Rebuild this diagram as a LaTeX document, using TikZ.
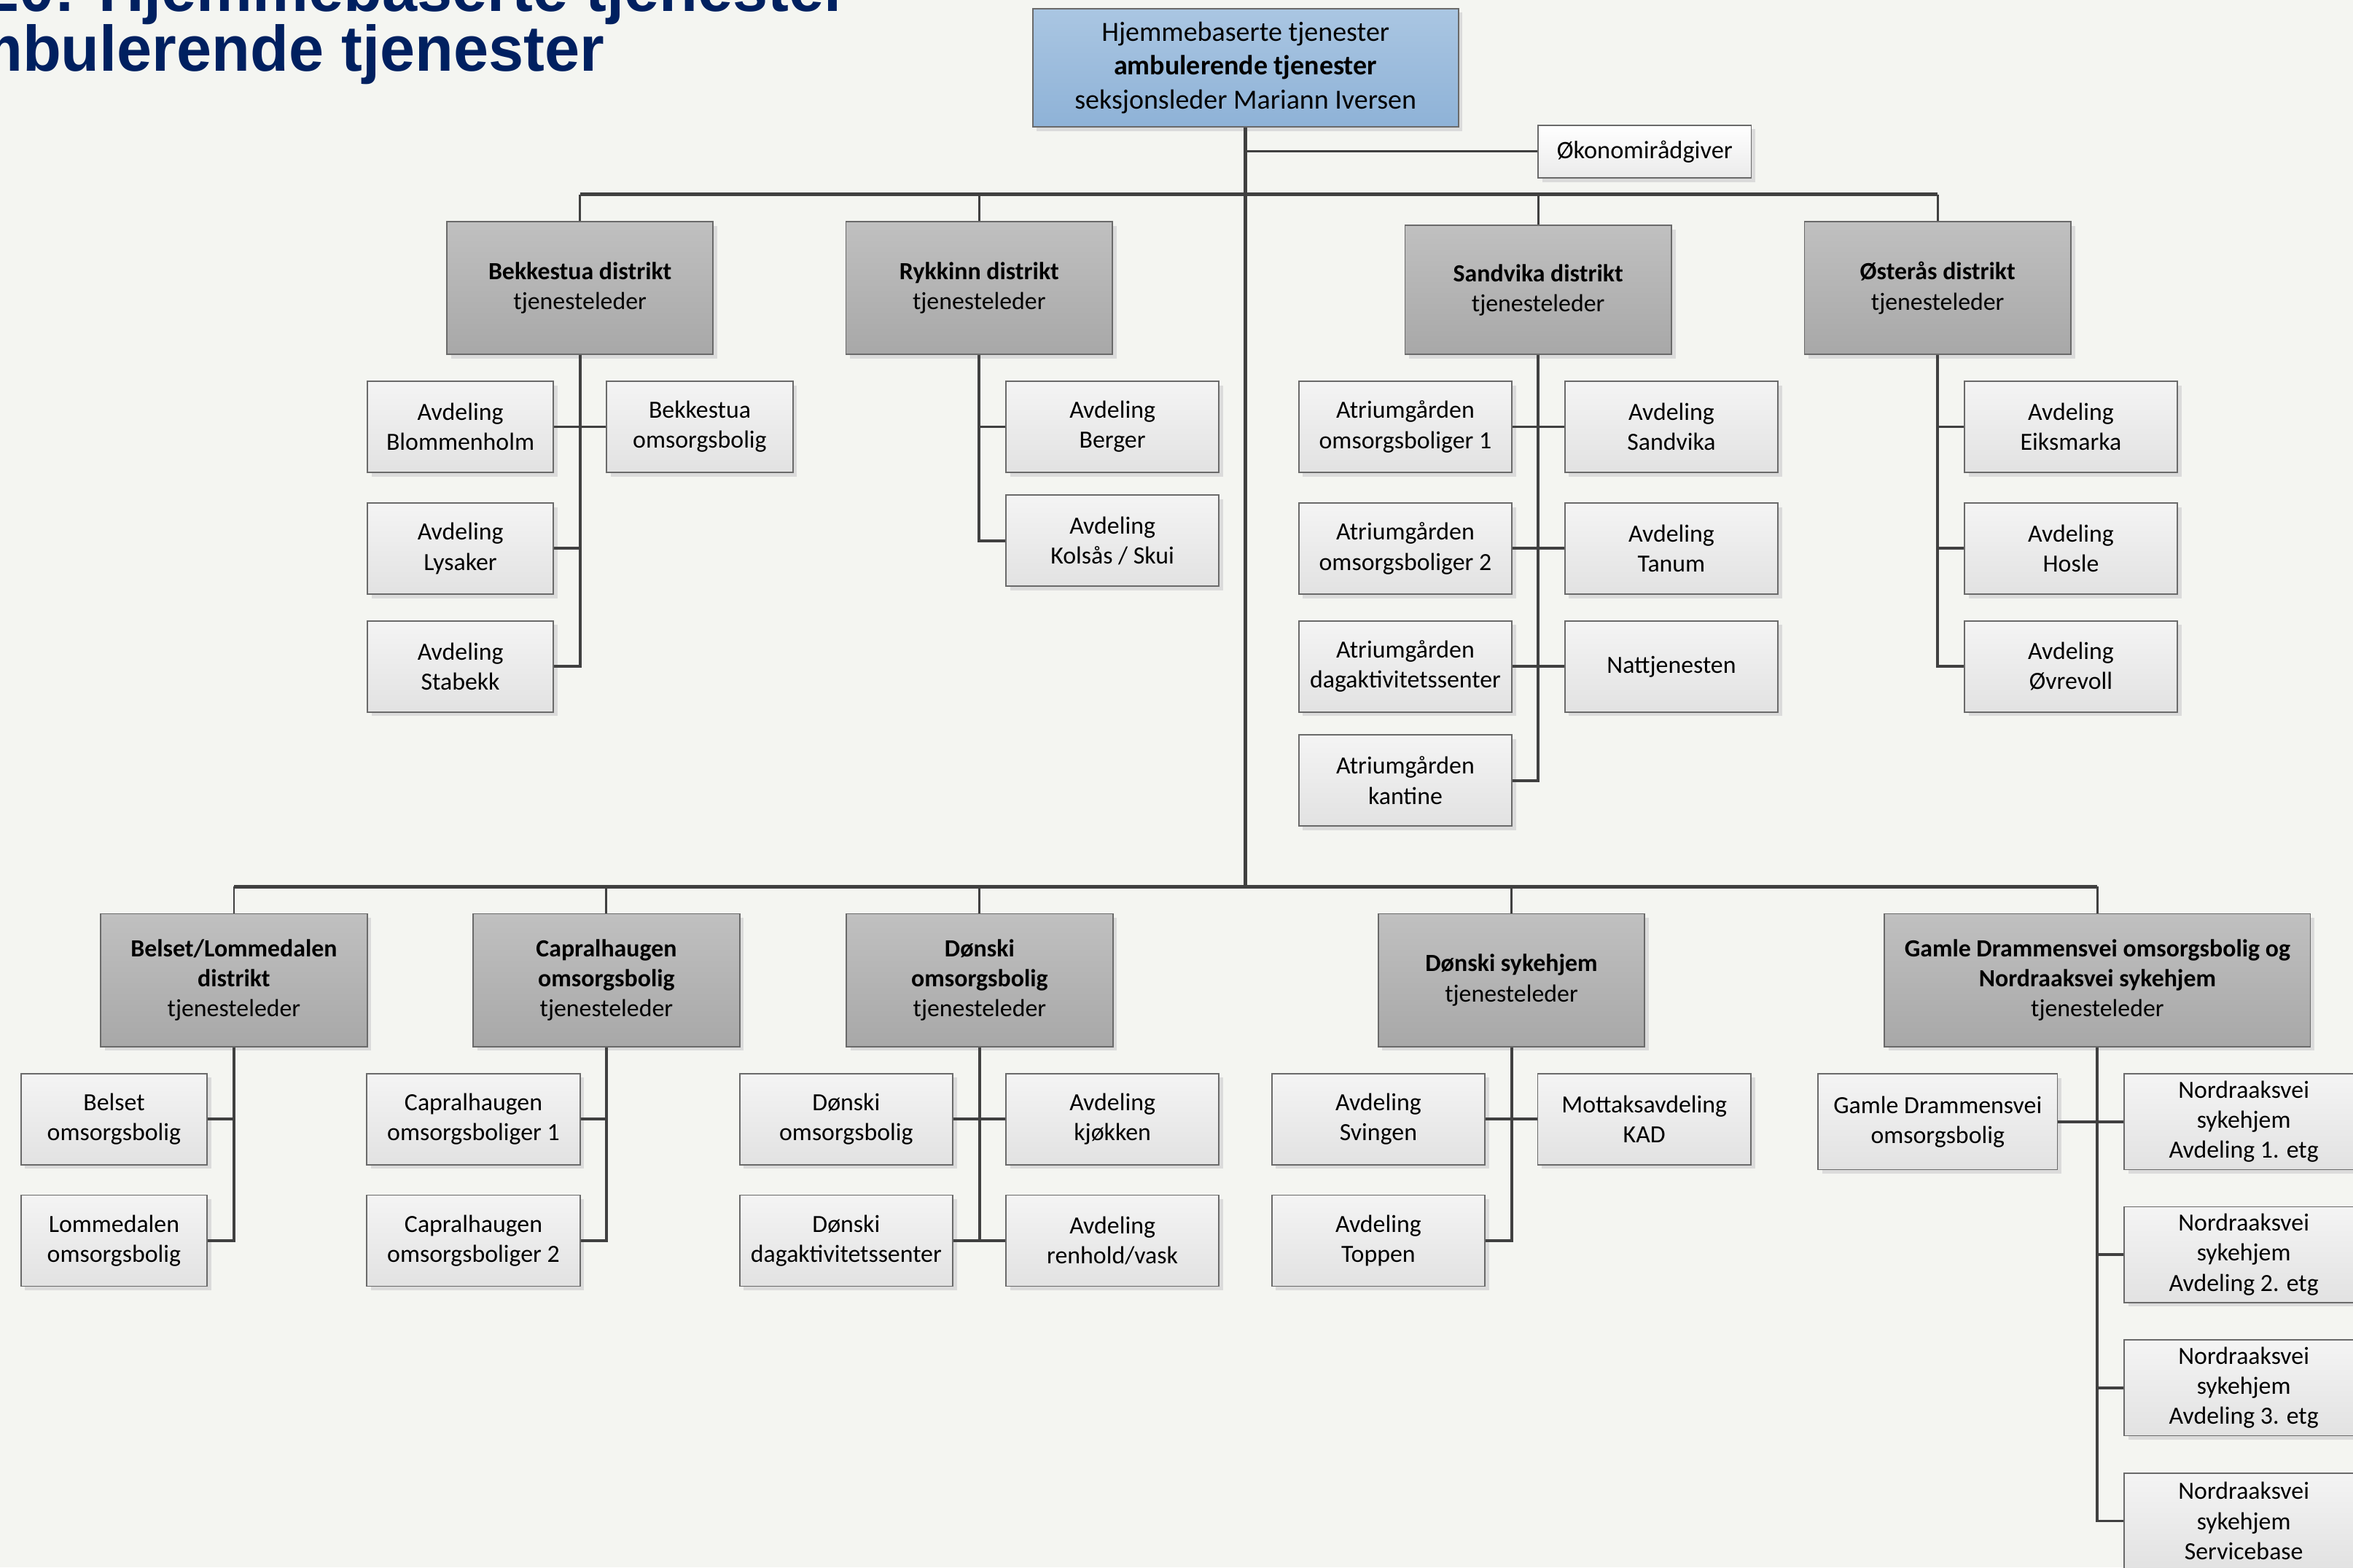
\documentclass[tikz,border=0pt]{standalone}
\usepackage{fontspec}
\usepackage{graphicx}
\setmainfont{Carlito}
\newfontfamily\titlefont{Liberation Sans}
\usetikzlibrary{shadows}
\definecolor{bgc}{HTML}{F4F5F1}
\definecolor{lnc}{HTML}{404040}
\definecolor{bordc}{HTML}{6A6A6A}
\definecolor{shc}{HTML}{DBDBDB}
\definecolor{titleblue}{HTML}{002060}
\definecolor{leaftop}{HTML}{F4F4F4}
\definecolor{leafbot}{HTML}{E2E2E2}
\definecolor{disttop}{HTML}{C0C0C0}
\definecolor{distbot}{HTML}{A8A8A8}
\definecolor{toptop}{HTML}{AAC6E2}
\definecolor{topbot}{HTML}{8EB2D7}
\tikzset{
  sz/.style 2 args={minimum width=#1*0.2mm, minimum height=#2*0.2mm},
  basebox/.style={draw=bordc, line width=0.5pt, inner sep=0pt, align=center,
    font=\fontsize{9.35}{11.4}\selectfont,
    general shadow={fill=shc, shadow xshift=0.55mm, shadow yshift=-0.55mm}},
  leaf/.style={basebox, top color=leaftop, bottom color=leafbot, sz={142}{60.7}},
  dist/.style={basebox, top color=disttop, bottom color=distbot, sz={177.5}{88.5}},
  topbox/.style={basebox, top color=toptop, bottom color=topbot, sz={283.6}{79},
    font=\fontsize{10.5}{12.8}\selectfont},
  okobox/.style={basebox, top color=white, bottom color=leafbot!70, sz={142}{35.3},
    font=\fontsize{9.5}{11.4}\selectfont},
  bus/.style={draw=lnc, line width=1.3pt},
  drop/.style={draw=lnc, line width=0.8pt},
  sub/.style={draw=lnc, line width=1.1pt},
  ttl/.style={anchor=base west, inner sep=0pt, text=titleblue,
    font=\titlefont\bfseries\fontsize{24.4}{24.4}\selectfont}
}
\begin{document}
\begin{tikzpicture}[x=0.2mm, y=-0.2mm, line join=miter]
\fill[bgc] (0,0) rectangle (1568,1044.36);
\useasboundingbox (0,0) rectangle (1568,1044.36);

% title
\node[ttl] (t1) at (-46,7.3) {\scalebox{0.98}[1]{1.20: Hjemmebaserte tjenester}};
\node[ttl] (t2) at (-46,47.6) {\scalebox{0.98}[1]{ambulerende tjenester}};

% top
\node[topbox] (top) at (830,45.2) {Hjemmebaserte tjenester\\\textbf{ambulerende tjenester}\\seksjonsleder Mariann Iversen};
\node[okobox] (oko) at (1096,101) {Økonomirådgiver};

% row 1 districts
\node[dist] (bek) at (386.5,191.9) {\textbf{Bekkestua distrikt}\\tjenesteleder};
\node[dist] (ryk) at (652.5,191.9) {\textbf{Rykkinn distrikt}\\tjenesteleder};
\node[dist, sz={177.5}{86.1}] (san) at (1025,193.2) {\textbf{Sandvika distrikt}\\tjenesteleder};
\node[dist] (ost) at (1291.2,191.9) {\textbf{Østerås distrikt}\\tjenesteleder};

% row 1 leaves
\node[leaf, sz={124}{60.7}] (blom) at (306.8,284.4) {Avdeling\\Blommenholm};
\node[leaf, sz={124}{60.7}] (bekoms) at (466.3,284.4) {Bekkestua\\omsorgsbolig};
\node[leaf, sz={124}{60.7}] (lys) at (306.8,365.5) {Avdeling\\Lysaker};
\node[leaf, sz={124}{60.7}] (stab) at (306.8,444.1) {Avdeling\\Stabekk};
\node[leaf] (berg) at (741.3,284.4) {Avdeling\\Berger};
\node[leaf] (kols) at (741.3,360.3) {Avdeling\\Kolsås / Skui};
\node[leaf] (atr1) at (936.5,284.4) {Atriumgården\\omsorgsboliger 1};
\node[leaf] (asan) at (1113.8,284.4) {Avdeling\\Sandvika};
\node[leaf] (atr2) at (936.5,365.5) {Atriumgården\\omsorgsboliger 2};
\node[leaf] (tanum) at (1113.8,365.5) {Avdeling\\Tanum};
\node[leaf] (atrdag) at (936.5,444.1) {Atriumgården\\dagaktivitetssenter};
\node[leaf] (natt) at (1113.8,444.1) {Nattjenesten};
\node[leaf] (kant) at (936.5,520) {Atriumgården\\kantine};
\node[leaf] (eiks) at (1380,284.4) {Avdeling\\Eiksmarka};
\node[leaf] (hosle) at (1380,365.5) {Avdeling\\Hosle};
\node[leaf] (ovre) at (1380,444.1) {Avdeling\\Øvrevoll};

% row 2 districts
\node[dist] (bel) at (155.9,653.1) {\textbf{Belset/Lommedalen}\\\textbf{distrikt}\\tjenesteleder};
\node[dist] (cap) at (404.1,653.1) {\textbf{Capralhaugen}\\\textbf{omsorgsbolig}\\tjenesteleder};
\node[dist] (donomb) at (652.8,653.1) {\textbf{Dønski}\\\textbf{omsorgsbolig}\\tjenesteleder};
\node[dist] (donsyk) at (1007.2,653.1) {\textbf{Dønski sykehjem}\\tjenesteleder};
\node[dist, sz={283.8}{88.5}] (gam) at (1397.7,653.1) {\textbf{Gamle Drammensvei omsorgsbolig og}\\\textbf{Nordraaksvei sykehjem}\\tjenesteleder};

% row 2 leaves
\node[leaf, sz={124}{60.7}] (belset) at (76,745.7) {Belset\\omsorgsbolig};
\node[leaf, sz={124}{60.7}] (lomme) at (76,826.7) {Lommedalen\\omsorgsbolig};
\node[leaf] (cap1) at (315.5,745.7) {Capralhaugen\\omsorgsboliger 1};
\node[leaf] (cap2) at (315.5,826.7) {Capralhaugen\\omsorgsboliger 2};
\node[leaf] (donoms) at (563.9,745.7) {Dønski\\omsorgsbolig};
\node[leaf] (kjok) at (741.3,745.7) {Avdeling\\kjøkken};
\node[leaf] (dondag) at (563.9,826.7) {Dønski\\dagaktivitetssenter};
\node[leaf] (renh) at (741.3,826.7) {Avdeling\\renhold/vask};
\node[leaf] (sving) at (918.5,745.7) {Avdeling\\Svingen};
\node[leaf] (mott) at (1095.7,745.7) {Mottaksavdeling\\KAD};
\node[leaf] (topp) at (918.5,826.7) {Avdeling\\Toppen};
\node[leaf, sz={159.5}{63.8}] (gamleaf) at (1291.25,747.5) {Gamle Drammensvei\\omsorgsbolig};
\node[leaf, sz={159.5}{63.8}] (nord1) at (1495.2,747.5) {Nordraaksvei\\sykehjem\\Avdeling 1. etg};
\node[leaf, sz={159.5}{63.8}] (nord2) at (1495.2,836) {Nordraaksvei\\sykehjem\\Avdeling 2. etg};
\node[leaf, sz={159.5}{63.8}] (nord3) at (1495.2,924.8) {Nordraaksvei\\sykehjem\\Avdeling 3. etg};
\node[leaf, sz={159.5}{63.8}] (nord4) at (1495.2,1013.5) {Nordraaksvei\\sykehjem\\Servicebase};

% main connectors
\coordinate (b1) at (830,129.5);
\coordinate (b2) at (830,590.9);
\draw[bus] (top.south) -- (b2);
\draw[drop] (top.south |- oko.west) -- (oko.west);
\draw[bus] (bek.north |- b1) -- (ost.north |- b1);
\foreach \n in {bek,ryk,san,ost} \draw[drop] (\n.north) -- (\n.north |- b1);
\draw[bus] (bel.north |- b2) -- (gam.north |- b2);
\foreach \n in {bel,cap,donomb,donsyk,gam} \draw[drop] (\n.north) -- (\n.north |- b2);

% row 1 subtrees
\draw[sub] (bek.south) |- (stab.east);
\draw[sub] (blom.east) -- (bekoms.west);
\draw[sub] (lys.east) -- (lys.east -| bek.south);
\draw[sub] (ryk.south) |- (kols.west);
\draw[sub] (berg.west) -- (berg.west -| ryk.south);
\draw[sub] (san.south) |- (kant.east);
\draw[sub] (atr1.east) -- (asan.west);
\draw[sub] (atr2.east) -- (tanum.west);
\draw[sub] (atrdag.east) -- (natt.west);
\draw[sub] (ost.south) |- (ovre.west);
\draw[sub] (eiks.west) -- (eiks.west -| ost.south);
\draw[sub] (hosle.west) -- (hosle.west -| ost.south);

% row 2 subtrees
\draw[sub] (bel.south) |- (lomme.east);
\draw[sub] (belset.east) -- (belset.east -| bel.south);
\draw[sub] (cap.south) |- (cap2.east);
\draw[sub] (cap1.east) -- (cap1.east -| cap.south);
\draw[sub] (donomb.south) -- (donomb.south |- dondag.east);
\draw[sub] (donoms.east) -- (kjok.west);
\draw[sub] (dondag.east) -- (renh.west);
\draw[sub] (donsyk.south) |- (topp.east);
\draw[sub] (sving.east) -- (mott.west);
\draw[sub] (gam.south) |- (nord4.west);
\draw[sub] (gamleaf.east) -- (nord1.west);
\draw[sub] (nord2.west) -- (nord2.west -| gam.south);
\draw[sub] (nord3.west) -- (nord3.west -| gam.south);
\end{tikzpicture}
\end{document}
